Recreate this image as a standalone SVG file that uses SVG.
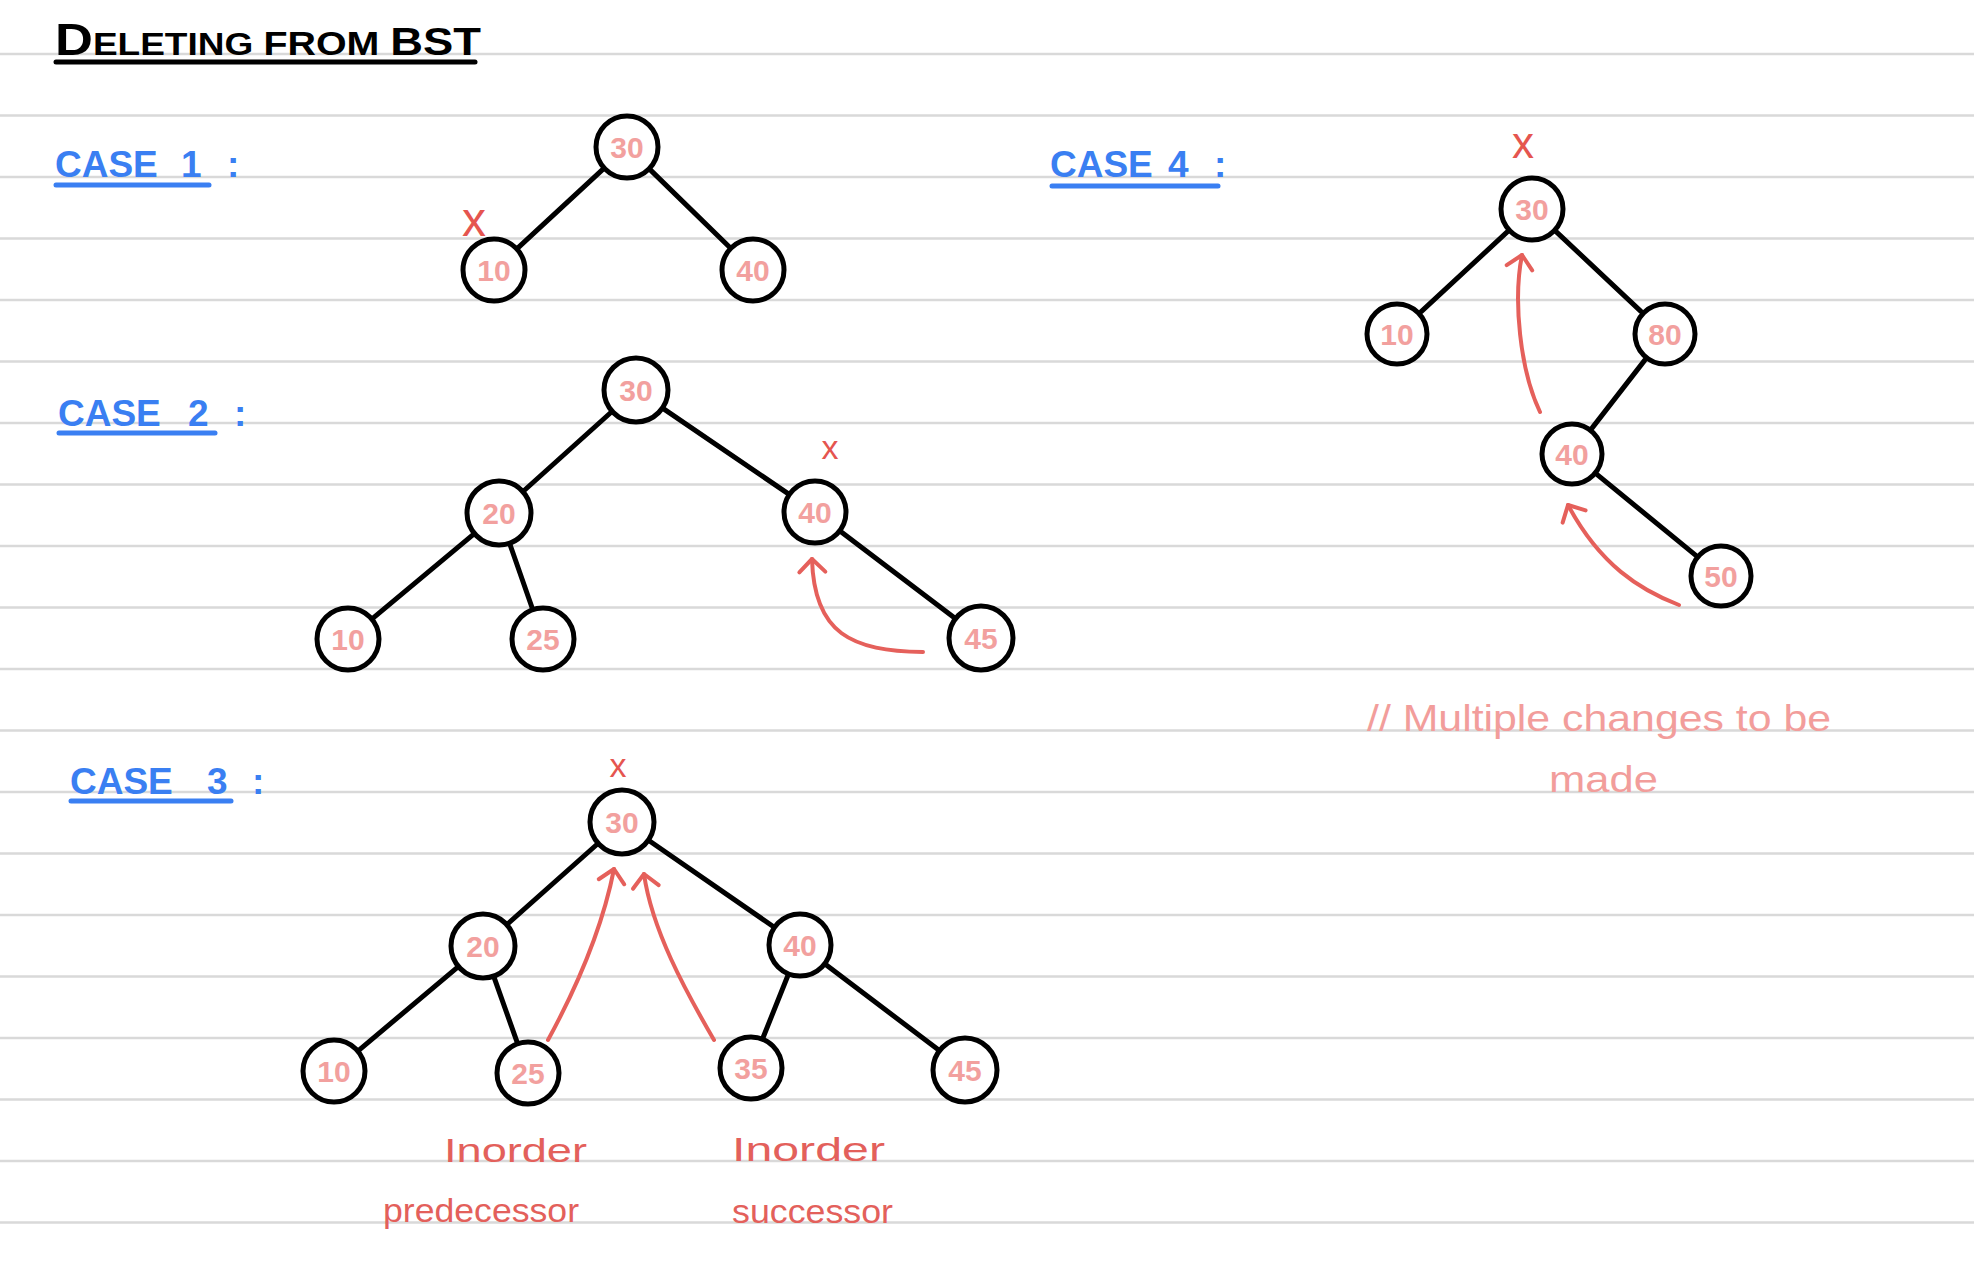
<svg xmlns="http://www.w3.org/2000/svg" width="1974" height="1266" viewBox="0 0 1974 1266">
<defs>
<style>
.rule{stroke:#d9d9d9;stroke-width:2.5}
.edge{stroke:#000;stroke-width:5;stroke-linecap:round}
.node circle{fill:#fff;stroke:#000;stroke-width:5}
.node text{font-family:"Liberation Sans",Arial,sans-serif;font-size:30px;font-weight:bold;fill:#f2a09e;text-anchor:middle}
.arrow{fill:none;stroke:#e5605b;stroke-width:4;stroke-linecap:round;marker-end:url(#chev)}
.xm{font-family:"Liberation Sans",Arial,sans-serif;fill:#e5554f;text-anchor:middle}
.case{font-family:"Liberation Sans",Arial,sans-serif;font-size:37px;font-weight:bold;fill:#3a7ff2}
.uline{stroke:#3a7ff2;stroke-width:5;stroke-linecap:round}
.lbl{font-family:"Liberation Sans",Arial,sans-serif;font-size:34px;fill:#e3605b}
.note{font-family:"Liberation Sans",Arial,sans-serif;font-size:36px;fill:#f29d9b}
</style>
<marker id="chev" markerUnits="userSpaceOnUse" markerWidth="40" markerHeight="40" viewBox="-20 -20 40 40" refX="0" refY="0" orient="auto">
<path d="M-13,-13 L0,0 L-13,13" fill="none" stroke="#e5605b" stroke-width="4" stroke-linecap="round" stroke-linejoin="round"/>
</marker>
</defs>
<rect width="1974" height="1266" fill="#fff"/>
<g id="rules">
<line class="rule" x1="0" y1="54" x2="1974" y2="54"/>
<line class="rule" x1="0" y1="115.5" x2="1974" y2="115.5"/>
<line class="rule" x1="0" y1="177" x2="1974" y2="177"/>
<line class="rule" x1="0" y1="238.5" x2="1974" y2="238.5"/>
<line class="rule" x1="0" y1="300" x2="1974" y2="300"/>
<line class="rule" x1="0" y1="361.5" x2="1974" y2="361.5"/>
<line class="rule" x1="0" y1="423" x2="1974" y2="423"/>
<line class="rule" x1="0" y1="484.5" x2="1974" y2="484.5"/>
<line class="rule" x1="0" y1="546" x2="1974" y2="546"/>
<line class="rule" x1="0" y1="607.5" x2="1974" y2="607.5"/>
<line class="rule" x1="0" y1="669" x2="1974" y2="669"/>
<line class="rule" x1="0" y1="730.5" x2="1974" y2="730.5"/>
<line class="rule" x1="0" y1="792" x2="1974" y2="792"/>
<line class="rule" x1="0" y1="853.5" x2="1974" y2="853.5"/>
<line class="rule" x1="0" y1="915" x2="1974" y2="915"/>
<line class="rule" x1="0" y1="976.5" x2="1974" y2="976.5"/>
<line class="rule" x1="0" y1="1038" x2="1974" y2="1038"/>
<line class="rule" x1="0" y1="1099.5" x2="1974" y2="1099.5"/>
<line class="rule" x1="0" y1="1161" x2="1974" y2="1161"/>
<line class="rule" x1="0" y1="1222.5" x2="1974" y2="1222.5"/>
</g>
<g id="title">
<text x="55" y="55" font-family="Liberation Sans,Arial,sans-serif" font-weight="bold" fill="#000" textLength="426" lengthAdjust="spacingAndGlyphs"><tspan font-size="44">D</tspan><tspan font-size="31">ELETING </tspan><tspan font-size="33">FROM </tspan><tspan font-size="38">BST</tspan></text>
<line x1="56" y1="62" x2="475" y2="62" stroke="#000" stroke-width="5" stroke-linecap="round"/>
</g>
<g id="case-labels">
<text class="case" y="177"><tspan x="55">CASE</tspan><tspan x="181">1</tspan><tspan x="227">:</tspan></text>
<line class="uline" x1="56" y1="185" x2="209" y2="185"/>
<text class="case" y="426"><tspan x="58">CASE</tspan><tspan x="188">2</tspan><tspan x="234">:</tspan></text>
<line class="uline" x1="59" y1="433" x2="215" y2="433"/>
<text class="case" y="794"><tspan x="70">CASE</tspan><tspan x="207">3</tspan><tspan x="252">:</tspan></text>
<line class="uline" x1="71" y1="801" x2="231" y2="801"/>
<text class="case" y="177"><tspan x="1050">CASE</tspan><tspan x="1168">4</tspan><tspan x="1214">:</tspan></text>
<line class="uline" x1="1052" y1="186" x2="1218" y2="186"/>
</g>
<g id="connectors">
<line class="edge" x1="602.8" y1="169.4" x2="518.2" y2="247.6"/>
<line class="edge" x1="650.6" y1="170.1" x2="729.4" y2="247.0"/>
<line class="edge" x1="611.4" y1="412.0" x2="523.6" y2="491.0"/>
<line class="edge" x1="663.3" y1="408.6" x2="787.7" y2="493.4"/>
<line class="edge" x1="473.7" y1="534.1" x2="373.3" y2="617.9"/>
<line class="edge" x1="509.9" y1="544.2" x2="532.1" y2="607.8"/>
<line class="edge" x1="841.3" y1="532.0" x2="954.7" y2="618.0"/>
<line class="edge" x1="597.4" y1="844.0" x2="507.6" y2="924.0"/>
<line class="edge" x1="649.2" y1="840.8" x2="772.8" y2="926.2"/>
<line class="edge" x1="457.7" y1="967.2" x2="359.3" y2="1049.8"/>
<line class="edge" x1="494.0" y1="977.1" x2="517.0" y2="1041.9"/>
<line class="edge" x1="787.8" y1="975.7" x2="763.2" y2="1037.3"/>
<line class="edge" x1="826.3" y1="964.9" x2="938.7" y2="1050.1"/>
<line class="edge" x1="1507.8" y1="231.4" x2="1421.2" y2="311.6"/>
<line class="edge" x1="1556.1" y1="231.6" x2="1640.9" y2="311.4"/>
<line class="edge" x1="1644.8" y1="360.1" x2="1592.2" y2="427.9"/>
<line class="edge" x1="1597.5" y1="474.9" x2="1695.5" y2="555.1"/>
<path class="arrow" d="M923,652 C852,651 814,634 812,559"/>
<path class="arrow" d="M548,1040 C578,985 603,925 614,869"/>
<path class="arrow" d="M714,1040 C685,990 652,930 644,874"/>
<path class="arrow" d="M1540,412 C1520,370 1513,300 1522,255"/>
<path class="arrow" d="M1679,605 C1640,590 1600,565 1568,505"/>
</g>
<g id="case1-n30" class="node"><circle cx="627" cy="147" r="31"/><text x="627" y="158">30</text></g>
<g id="case1-n10" class="node"><circle cx="494" cy="270" r="31"/><text x="494" y="281">10</text></g>
<g id="case1-n40" class="node"><circle cx="753" cy="270" r="31"/><text x="753" y="281">40</text></g>
<g id="case2-n30" class="node"><circle cx="636" cy="390" r="32"/><text x="636" y="401">30</text></g>
<g id="case2-n20" class="node"><circle cx="499" cy="513" r="32"/><text x="499" y="524">20</text></g>
<g id="case2-n40" class="node"><circle cx="815" cy="512" r="31"/><text x="815" y="523">40</text></g>
<g id="case2-n10" class="node"><circle cx="348" cy="639" r="31"/><text x="348" y="650">10</text></g>
<g id="case2-n25" class="node"><circle cx="543" cy="639" r="31"/><text x="543" y="650">25</text></g>
<g id="case2-n45" class="node"><circle cx="981" cy="638" r="32"/><text x="981" y="649">45</text></g>
<g id="case3-n30" class="node"><circle cx="622" cy="822" r="32"/><text x="622" y="833">30</text></g>
<g id="case3-n20" class="node"><circle cx="483" cy="946" r="32"/><text x="483" y="957">20</text></g>
<g id="case3-n40" class="node"><circle cx="800" cy="945" r="31"/><text x="800" y="956">40</text></g>
<g id="case3-n10" class="node"><circle cx="334" cy="1071" r="31"/><text x="334" y="1082">10</text></g>
<g id="case3-n25" class="node"><circle cx="528" cy="1073" r="31"/><text x="528" y="1084">25</text></g>
<g id="case3-n35" class="node"><circle cx="751" cy="1068" r="31"/><text x="751" y="1079">35</text></g>
<g id="case3-n45" class="node"><circle cx="965" cy="1070" r="32"/><text x="965" y="1081">45</text></g>
<g id="case4-n30" class="node"><circle cx="1532" cy="209" r="31"/><text x="1532" y="220">30</text></g>
<g id="case4-n10" class="node"><circle cx="1397" cy="334" r="30"/><text x="1397" y="345">10</text></g>
<g id="case4-n80" class="node"><circle cx="1665" cy="334" r="30"/><text x="1665" y="345">80</text></g>
<g id="case4-n40" class="node"><circle cx="1572" cy="454" r="30"/><text x="1572" y="465">40</text></g>
<g id="case4-n50" class="node"><circle cx="1721" cy="576" r="30"/><text x="1721" y="587">50</text></g>
<g id="marks">
<text class="xm" x="474" y="236" font-size="48">x</text>
<text class="xm" x="830" y="459" font-size="34">x</text>
<text class="xm" x="618" y="777" font-size="34">x</text>
<text class="xm" x="1523" y="158" font-size="44">x</text>
</g>
<g id="labels">
<text class="lbl" x="444" y="1162" textLength="143" lengthAdjust="spacingAndGlyphs">Inorder</text>
<text class="lbl" x="383" y="1222" textLength="196" lengthAdjust="spacingAndGlyphs">predecessor</text>
<text class="lbl" x="732" y="1161" textLength="153" lengthAdjust="spacingAndGlyphs">Inorder</text>
<text class="lbl" x="732" y="1223" textLength="161" lengthAdjust="spacingAndGlyphs">successor</text>
<text class="note" x="1367" y="731" textLength="464" lengthAdjust="spacingAndGlyphs">// Multiple changes  to be</text>
<text class="note" x="1549" y="792" textLength="109" lengthAdjust="spacingAndGlyphs">made</text>
</g>
</svg>
